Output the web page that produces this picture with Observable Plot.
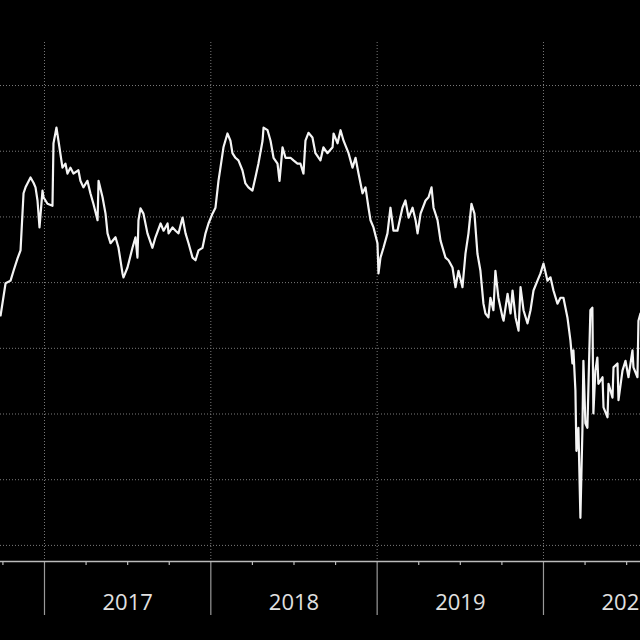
<!DOCTYPE html>
<html><head><meta charset="utf-8">
<script src="https://cdn.jsdelivr.net/npm/d3@7"></script>
<script src="https://cdn.jsdelivr.net/npm/@observablehq/plot@0.6"></script>
<style>html,body{margin:0;padding:0;background:#000;overflow:hidden;} #chart svg{display:block}</style>
</head><body><div id="chart"></div>
<script>
// Time (decimal years) and series values
const decimalYears = [
2016.736,2016.766,2016.796,2016.814,2016.838,2016.856,2016.874,2016.886,2016.916,2016.934,
2016.946,2016.958,2016.970,2016.988,2016.994,2017.018,2017.048,2017.054,2017.072,2017.084,
2017.108,2017.126,2017.138,2017.156,2017.174,2017.204,2017.216,2017.234,2017.258,2017.276,
2017.294,2017.319,2017.325,2017.349,2017.367,2017.379,2017.397,2017.427,2017.445,2017.469,
2017.475,2017.499,2017.529,2017.547,2017.559,2017.565,2017.577,2017.595,2017.619,2017.649,
2017.667,2017.698,2017.716,2017.740,2017.746,2017.770,2017.788,2017.806,2017.830,2017.848,
2017.866,2017.890,2017.908,2017.926,2017.950,2017.968,2017.986,2018.010,2018.028,2018.046,
2018.058,2018.076,2018.100,2018.118,2018.130,2018.148,2018.166,2018.190,2018.208,2018.226,
2018.250,2018.268,2018.286,2018.311,2018.317,2018.341,2018.359,2018.377,2018.401,2018.413,
2018.431,2018.449,2018.479,2018.497,2018.521,2018.539,2018.557,2018.569,2018.587,2018.611,
2018.629,2018.659,2018.677,2018.701,2018.732,2018.738,2018.762,2018.780,2018.798,2018.828,
2018.852,2018.870,2018.888,2018.912,2018.930,2018.948,2018.960,2018.978,2019.002,2019.008,
2019.020,2019.038,2019.062,2019.080,2019.098,2019.122,2019.152,2019.170,2019.189,2019.213,
2019.231,2019.243,2019.261,2019.291,2019.309,2019.327,2019.339,2019.363,2019.381,2019.411,
2019.429,2019.453,2019.471,2019.489,2019.513,2019.531,2019.549,2019.567,2019.585,2019.603,
2019.621,2019.639,2019.651,2019.669,2019.681,2019.699,2019.711,2019.729,2019.754,2019.760,
2019.784,2019.802,2019.814,2019.832,2019.850,2019.862,2019.880,2019.904,2019.922,2019.940,
2019.964,2019.982,2020.000,2020.024,2020.042,2020.060,2020.084,2020.102,2020.120,2020.144,
2020.162,2020.174,2020.180,2020.192,2020.198,2020.210,2020.222,2020.234,2020.240,2020.252,
2020.264,2020.282,2020.294,2020.300,2020.312,2020.324,2020.330,2020.355,2020.361,2020.385,
2020.391,2020.415,2020.421,2020.445,2020.451,2020.475,2020.493,2020.511,2020.535,2020.541,
2020.565,2020.571,2020.583
];
const values = [
75.0,79.9,80.3,81.8,83.7,84.9,93.6,94.5,96.0,95.2,
94.5,92.5,88.4,94.0,93.0,92.0,91.7,101.2,103.6,101.6,
97.5,98.1,96.6,97.5,96.6,97.1,95.5,94.5,95.5,93.6,
92.0,89.5,95.5,93.0,90.5,87.5,86.0,86.9,85.3,81.4,
80.8,82.3,85.3,86.9,83.8,89.5,91.3,90.5,87.5,85.3,
86.9,89.0,87.9,89.0,87.5,88.4,87.9,87.5,89.9,87.5,
86.0,83.8,83.4,84.9,85.3,87.5,89.0,90.5,91.4,95.5,
97.5,100.6,102.7,101.6,99.7,99.0,98.6,97.1,95.1,94.5,
94.0,96.0,98.1,101.6,103.6,103.2,101.6,99.0,98.1,95.5,
100.6,99.0,99.0,98.6,98.1,98.1,96.6,101.6,102.8,102.1,
99.7,98.6,100.6,99.7,100.6,102.7,101.2,103.2,101.6,99.7,
97.5,99.0,96.6,93.6,94.5,91.4,89.5,88.4,86.0,81.4,
83.8,85.3,87.5,91.4,87.9,87.9,91.4,92.5,89.9,91.4,
89.5,87.5,90.5,92.5,93.0,94.5,91.4,89.5,86.4,83.8,
83.4,82.3,79.3,81.8,79.3,84.4,87.5,92.0,90.5,84.4,
81.8,76.8,75.3,74.7,77.7,75.8,81.8,77.7,74.7,74.2,
78.3,75.3,78.8,74.7,72.7,79.3,75.8,73.8,75.8,78.8,
80.3,81.4,82.9,80.3,80.8,78.8,76.8,77.7,77.7,74.7,
71.2,67.7,69.7,63.6,54.4,57.9,44.2,57.5,68.1,58.6,
57.9,75.8,76.2,60.1,66.6,68.6,64.6,65.6,61.0,59.5,
64.6,62.5,67.1,67.7,62.1,66.6,68.1,65.6,69.7,67.1,
65.6,74.2,75.3
];
const gridLevels = [40, 50, 60, 70, 80, 90, 100, 110];
const yearBoundaries = [2017, 2018, 2019, 2020];
const quarterTicks = [2016.75, 2017.25, 2017.5, 2017.75, 2018.25, 2018.5, 2018.75,
  2019.25, 2019.5, 2019.75, 2020.25, 2020.5];
const yearLabels = ["2017", "2018", "2019", "2020"];
const yearLabelCenters = [2017.5, 2018.5, 2019.5, 2020.5];

const data = decimalYears.map((t, i) => ({t, v: values[i]}));
const labels = yearLabels.map((s, i) => ({x: yearLabelCenters[i], s}));

const chart = Plot.plot({
  width: 640,
  height: 640,
  marginTop: 42,
  marginBottom: 79,
  marginLeft: 0,
  marginRight: 0,
  x: {domain: [2016.7355, 2020.5833], label: null},
  y: {domain: [37.55, 116.55], axis: null, label: null},
  style: {background: "#000", color: "#ddd", fontFamily: "'Open Sans', sans-serif"},
  marks: [
    Plot.ruleY(gridLevels, {stroke: "#7a7a7a", strokeWidth: 1, strokeDasharray: "1,2"}),
    Plot.ruleX(yearBoundaries, {stroke: "#7a7a7a", strokeWidth: 1, strokeDasharray: "1,2"}),
    Plot.axisX({ticks: yearBoundaries, tickSize: 54, tickFormat: () => "", stroke: "#9a9a9a", strokeWidth: 1.2}),
    Plot.axisX({ticks: quarterTicks, tickSize: 4, tickFormat: () => "", stroke: "#bbb", strokeWidth: 1.2}),
    Plot.frame({anchor: "bottom", stroke: "#bbb", strokeWidth: 1.5}),
    Plot.line(data, {x: "t", y: "v", stroke: "#f4f4f4", strokeWidth: 2.2, strokeLinejoin: "round"}),
    Plot.text(labels, {x: "x", text: "s", frameAnchor: "bottom", dy: 48, fill: "#e0e0e0",
      fontSize: 22, fontFamily: "'Open Sans', sans-serif"})
  ]
});
document.getElementById("chart").appendChild(chart);
</script>
</body></html>
